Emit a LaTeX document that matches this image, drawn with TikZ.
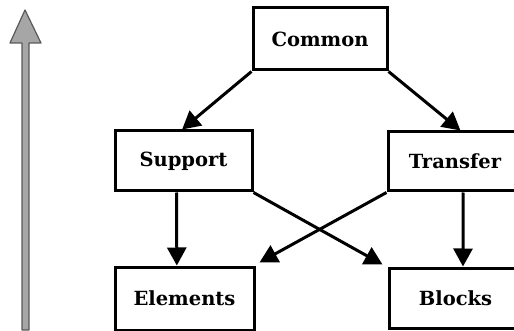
\documentclass[tikz,border=0pt]{standalone}
\usepackage{fontspec}
\setmainfont{DejaVu Serif}
\usetikzlibrary{arrows.meta,calc}
\begin{document}
\begin{tikzpicture}[x=1pt,y=-1pt,
  box/.style={draw=black,line width=3pt,fill=white,inner sep=0pt,
    font=\fontsize{19.5}{22}\selectfont\bfseries},
  link/.style={line width=3pt,-{Triangle[length=18pt,width=19pt]}},
  scale arrow/.style={fill=gray!70,draw=black!65,line width=1.2pt,line join=round}]
  \useasboundingbox (0,0) rectangle (514,331);
  \clip (0,0) rectangle (514,331);

  % level arrow on the left
  \path[scale arrow] (22,330) -- (22,43) -- (10,43) -- (25,10) -- (41,43)
    -- (29,43) -- (29,330) -- cycle;

  % boxes
  \node[box,minimum width=134pt,minimum height=62pt] (common) at (320,39) {Common};
  \node[box,minimum width=137pt,minimum height=60pt] (support) at (183.5,161) {Support};
  \node[box,minimum width=134pt,minimum height=59pt] (transfer) at (455,161.5) {Transfer};
  \node[box,minimum width=139pt,minimum height=63pt] (elements) at (184.5,298.5) {Elements};
  \node[box,minimum width=133pt,minimum height=60pt] (blocks) at (455.5,298) {Blocks};

  % arrow end points
  \coordinate (supT) at ($(support.north west)!0.49!(support.north east)$);
  \coordinate (traT) at ($(transfer.north west)!0.54!(transfer.north east)$);
  \coordinate (supB) at ($(support.south west)!0.45!(support.south east)$);
  \coordinate (eleT) at ($(elements.north west)!0.446!(elements.north east)$);
  \coordinate (traB) at ($(transfer.south west)!0.56!(transfer.south east)$);
  \coordinate (bloT) at ($(blocks.north west)!0.555!(blocks.north east)$);
  \coordinate (eleX) at ($(elements.north east)+(4,-3)$);
  \coordinate (bloX) at ($(blocks.north west)+(-5,-2)$);

  % connectors
  \draw[link] (common.south west) -- (supT);
  \draw[link] (common.south east) -- (traT);
  \draw[link] (supB) -- (eleT);
  \draw[link] (traB) -- (bloT);
  \draw[link] (support.south east) -- (bloX);
  \draw[link] (transfer.south west) -- (eleX);
\end{tikzpicture}
\end{document}
